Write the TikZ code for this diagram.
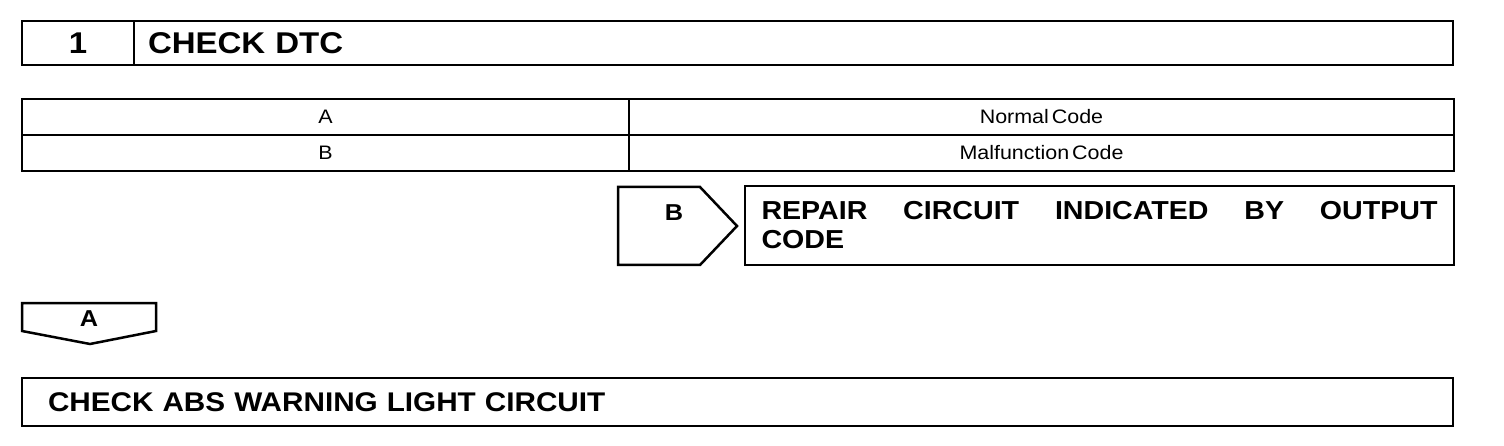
\documentclass[tikz,border=0pt]{standalone}
\usepackage{fontspec}
\setmainfont{Liberation Sans}[FakeStretch=1.1]
\usepackage{tikz}
\usetikzlibrary{positioning}
\tikzset{
  frame/.style = {draw, line width=2.8pt, inner sep=0pt, outer sep=0pt},
  cell/.style  = {draw, line width=2.4pt, inner sep=0pt, outer sep=0pt,
                  minimum height=36pt, font=\fontsize{19.5}{21}\selectfont},
  head/.style  = {font=\bfseries\fontsize{30}{32}\selectfont},
  tag/.style   = {inner sep=0pt, font=\bfseries\fontsize{23}{25}\selectfont},
  tab/.style   = {line width=2.5pt, line join=miter}
}

\begin{document}
\begin{tikzpicture}[x=1pt, y=-1pt]
\useasboundingbox (0,0) rectangle (1504,446);
% step header
\node[frame, head, minimum width=112pt, minimum height=44pt] (num) at (78,43) {1};
\node[frame, head, minimum height=44pt, text width=1291pt, inner xsep=14pt,
      align=left, right=0pt of num] (title) {CHECK DTC};
% result table
\node[cell, minimum width=607pt] (codeA) at (325.5,117) {A};
\node[cell, minimum width=825pt, right=0pt of codeA] (normal) {Normal\hspace{3pt}Code};
\node[cell, minimum width=607pt, below=0pt of codeA] (codeB) {B};
\node[cell, minimum width=825pt, right=0pt of codeB] (malf) {Malfunction\hspace{3pt}Code};
% branch B
\node[tag] (optB) at (674,213) {B};
\draw[tab] (618,187) -- (700,187) -- (737,226) -- (700,265) -- (618,265) -- cycle;
\node[frame, minimum height=79pt, text width=676pt, inner xsep=16.5pt, align=justify,
      font=\bfseries\fontsize{26}{29}\selectfont] (repair) at (1099.5,225.5)
      {REPAIR\hfill CIRCUIT\hfill INDICATED\hfill BY\hfill OUTPUT\\CODE};
% branch A
\node[tag] (optA) at (89,319) {A};
\draw[tab] (22,303) -- (156,303) -- (156,331) -- (90,344) -- (22,331) -- cycle;
\node[frame, minimum height=48pt, text width=1379pt, inner xsep=26pt, align=left,
      font=\bfseries\fontsize{27}{29}\selectfont] (absbox) at (737.5,402)
      {CHECK ABS WARNING LIGHT CIRCUIT};
\end{tikzpicture}
\end{document}
